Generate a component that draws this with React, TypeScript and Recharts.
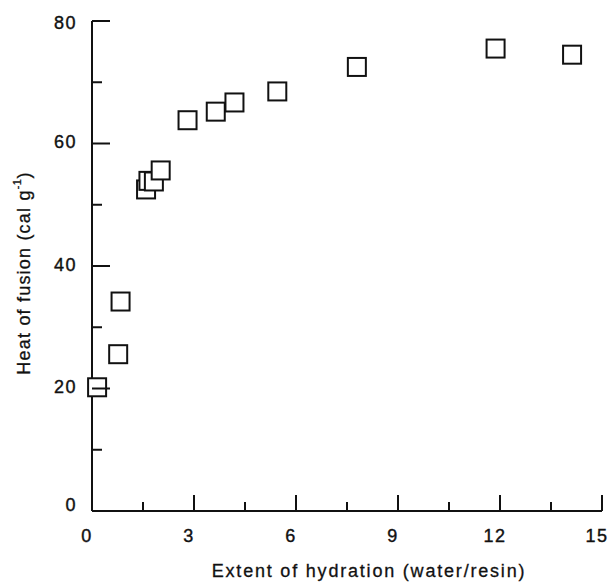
import React from "react";
import { ScatterChart, Scatter, XAxis, YAxis, Label } from "recharts";

// hydration (water/resin) vs heat of fusion (cal/g)
const hydration = [0.15, 0.77, 0.84, 1.59, 1.66, 1.82, 2.02, 2.81, 3.64, 4.19, 5.45, 7.79, 11.87, 14.12];
const heatOfFusion = [20.2, 25.6, 34.2, 52.5, 53.9, 53.8, 55.6, 63.8, 65.2, 66.7, 68.5, 72.5, 75.5, 74.5];

const xTicks = [0, 1.5, 3, 4.5, 6, 7.5, 9, 10.5, 12, 13.5, 15];
const xLabels = [0, 3, 6, 9, 12, 15];
const yTicks = [0, 10, 20, 30, 40, 50, 60, 70, 80];
const yLabels = [0, 20, 40, 60, 80];

const INK = "#111";
const FONT = "'Liberation Sans', Arial, sans-serif";

const points = hydration.map((x, i) => ({ x, y: heatOfFusion[i] }));

function XTick({ x, y, payload }: any) {
  const major = xLabels.includes(payload.value);
  return (
    <g>
      <line x1={x} x2={x} y1={y} y2={y - (major ? 16 : 9)} stroke={INK} strokeWidth={2} />
      {major && (
        <text
          x={x - 5}
          y={y + 26}
          textAnchor="middle"
          dominantBaseline="middle"
          fontFamily={FONT}
          fontSize={18}
          letterSpacing={1.5}
          fill={INK}
          stroke={INK}
          strokeWidth={0.4}
        >
          {payload.value}
        </text>
      )}
    </g>
  );
}

function YTick({ x, y, payload }: any) {
  const major = yLabels.includes(payload.value);
  return (
    <g>
      <line x1={x} x2={x + (major ? 18 : 10)} y1={y} y2={y} stroke={INK} strokeWidth={2} />
      {major && (
        <text
          x={x - 15}
          y={y + (payload.value === 80 ? 3 : payload.value === 0 ? -5 : 0)}
          textAnchor="end"
          dominantBaseline="middle"
          fontFamily={FONT}
          fontSize={18}
          letterSpacing={1.5}
          fill={INK}
          stroke={INK}
          strokeWidth={0.4}
        >
          {payload.value}
        </text>
      )}
    </g>
  );
}

function Square({ cx, cy }: any) {
  return <rect x={cx - 9} y={cy - 9} width={18} height={18} fill="#fff" stroke={INK} strokeWidth={2} />;
}

export default function App() {
  return (
    <div style={{ position: "absolute", left: 0, top: 0, background: "#fff" }}>
      <ScatterChart width={612} height={582} margin={{ top: 21, right: 10, bottom: 0, left: 0 }}>
        <XAxis
          type="number"
          dataKey="x"
          domain={[0, 15]}
          ticks={xTicks}
          interval={0}
          height={71}
          tickSize={0}
          tickMargin={0}
          tickLine={false}
          tick={<XTick />}
          axisLine={{ stroke: INK, strokeWidth: 2 }}
        >
          <Label
            content={() => (
              <text
                x={369}
                y={572}
                textAnchor="middle"
                dominantBaseline="middle"
                fontFamily={FONT}
                fontSize={18}
                letterSpacing={1.8}
                fill={INK}
                stroke={INK}
                strokeWidth={0.3}
              >
                Extent of hydration (water/resin)
              </text>
            )}
          />
        </XAxis>
        <YAxis
          type="number"
          dataKey="y"
          domain={[0, 80]}
          ticks={yTicks}
          interval={0}
          width={92}
          tickSize={0}
          tickMargin={0}
          tickLine={false}
          tick={<YTick />}
          axisLine={{ stroke: INK, strokeWidth: 2 }}
        >
          <Label
            content={() => (
              <text
                transform="translate(25,273) rotate(-90)"
                textAnchor="middle"
                dominantBaseline="middle"
                fontFamily={FONT}
                fontSize={18}
                letterSpacing={1.2}
                fill={INK}
                stroke={INK}
                strokeWidth={0.3}
              >
                Heat of fusion (cal g
                <tspan dy={-7} fontSize={11} letterSpacing={0.5}>-1</tspan>
                <tspan dy={7}>)</tspan>
              </text>
            )}
          />
        </YAxis>
        <Scatter data={points} shape={<Square />} isAnimationActive={false} />
      </ScatterChart>
    </div>
  );
}
